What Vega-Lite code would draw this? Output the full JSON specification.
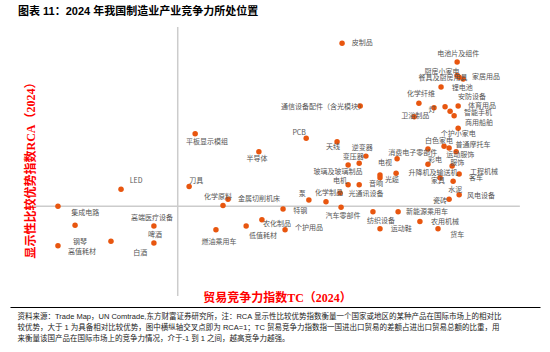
{
  "$schema": "https://vega.github.io/schema/vega-lite/v6.json",
  "width": 530,
  "height": 269,
  "autosize": "none",
  "padding": {"left": 10, "top": 27, "right": 10, "bottom": 56},
  "background": "white",
  "config": {"view": {"stroke": null}},
  "title": {
    "text": "图表 11：2024 年我国制造业产业竞争力所处位置",
    "anchor": "start",
    "frame": "group",
    "dx": 8,
    "offset": 3,
    "baseline": "middle",
    "font": "Liberation Sans, Noto Sans CJK SC",
    "fontSize": 11,
    "fontWeight": "bold",
    "color": "#000000"
  },
  "datasets": {
    "hline": [{"tc": -0.43, "tc2": 1.02, "rca": 1}],
    "vline": [{"tc": 0, "rca": 0, "rca2": 3}],
    "points": [
      {"tc": 0.49, "rca": 2.82}, {"tc": 0.544, "rca": 2.12}, {"tc": 0.052, "rca": 1.81},
      {"tc": 0.383, "rca": 1.76}, {"tc": 0.475, "rca": 1.72}, {"tc": 0.242, "rca": 1.61},
      {"tc": 0.561, "rca": 1.56}, {"tc": 0.508, "rca": 1.46}, {"tc": 0.541, "rca": 1.48},
      {"tc": 0.833, "rca": 2.61}, {"tc": 0.833, "rca": 2.46}, {"tc": 0.839, "rca": 2.44},
      {"tc": 0.851, "rca": 2.42}, {"tc": 0.785, "rca": 2.33}, {"tc": 0.719, "rca": 2.15},
      {"tc": 0.836, "rca": 2.12}, {"tc": 0.797, "rca": 2.11}, {"tc": 0.764, "rca": 2.10},
      {"tc": 0.812, "rca": 2.06}, {"tc": 0.824, "rca": 2.01}, {"tc": 0.705, "rca": 2.00},
      {"tc": 0.836, "rca": 1.87}, {"tc": 0.794, "rca": 1.67}, {"tc": 0.809, "rca": 1.65},
      {"tc": 0.830, "rca": 1.61}, {"tc": 0.746, "rca": 1.64}, {"tc": 0.654, "rca": 1.53},
      {"tc": 0.746, "rca": 1.47}, {"tc": 0.818, "rca": 1.45}, {"tc": 0.603, "rca": 1.35},
      {"tc": 0.603, "rca": 1.32}, {"tc": 0.651, "rca": 1.37}, {"tc": 0.839, "rca": 1.36},
      {"tc": 0.782, "rca": 1.32}, {"tc": 0.821, "rca": 1.28}, {"tc": 0.839, "rca": 1.13},
      {"tc": 0.809, "rca": 1.08}, {"tc": 0.657, "rca": 0.94}, {"tc": 0.582, "rca": 0.94},
      {"tc": 0.603, "rca": 0.75}, {"tc": 0.722, "rca": 0.83}, {"tc": 0.776, "rca": 0.75},
      {"tc": 0.508, "rca": 1.24}, {"tc": 0.541, "rca": 1.24}, {"tc": 0.484, "rca": 1.15},
      {"tc": 0.442, "rca": 1.05}, {"tc": 0.391, "rca": 1.07}, {"tc": 0.034, "rca": 1.22},
      {"tc": 0.150, "rca": 1.08}, {"tc": 0.135, "rca": 1.01}, {"tc": 0.314, "rca": 0.97},
      {"tc": 0.487, "rca": 0.99}, {"tc": 0.251, "rca": 0.85}, {"tc": 0.320, "rca": 0.74},
      {"tc": 0.204, "rca": 0.78}, {"tc": 0.114, "rca": 0.74}, {"tc": -0.169, "rca": 1.19},
      {"tc": -0.357, "rca": 1.00}, {"tc": -0.306, "rca": 0.79}, {"tc": -0.071, "rca": 0.78},
      {"tc": -0.071, "rca": 0.59}, {"tc": -0.199, "rca": 0.61}, {"tc": -0.357, "rca": 0.56}
    ],
    "labels": [
      {"label": "皮制品", "tc": 0.550, "rca": 2.82},
      {"label": "通信设备配件（含光模块）", "tc": 0.433, "rca": 2.11},
      {"label": "平板显示模组", "tc": 0.087, "rca": 1.72},
      {"label": "PCB", "tc": 0.362, "rca": 1.82},
      {"label": "天线", "tc": 0.463, "rca": 1.66},
      {"label": "逆变器", "tc": 0.550, "rca": 1.65},
      {"label": "半导体", "tc": 0.236, "rca": 1.53},
      {"label": "变压器", "tc": 0.523, "rca": 1.55},
      {"label": "玻璃及玻璃制品", "tc": 0.478, "rca": 1.38},
      {"label": "电机", "tc": 0.484, "rca": 1.28},
      {"label": "音响", "tc": 0.591, "rca": 1.25},
      {"label": "光通讯设备", "tc": 0.561, "rca": 1.14},
      {"label": "化学制品", "tc": 0.451, "rca": 1.15},
      {"label": "泵", "tc": 0.371, "rca": 1.14},
      {"label": "刀具", "tc": 0.055, "rca": 1.28},
      {"label": "化学原料", "tc": 0.120, "rca": 1.10},
      {"label": "金属切削机床", "tc": 0.242, "rca": 1.08},
      {"label": "特钢", "tc": 0.365, "rca": 0.95},
      {"label": "汽车零部件", "tc": 0.493, "rca": 0.89},
      {"label": "农化制品", "tc": 0.296, "rca": 0.80},
      {"label": "个护用品", "tc": 0.391, "rca": 0.76},
      {"label": "低值耗材", "tc": 0.254, "rca": 0.67},
      {"label": "燃油乘用车", "tc": 0.123, "rca": 0.60},
      {"label": "LED", "tc": -0.124, "rca": 1.28},
      {"label": "集成电路", "tc": -0.276, "rca": 0.93},
      {"label": "高端医疗设备", "tc": -0.077, "rca": 0.87},
      {"label": "啤酒", "tc": -0.068, "rca": 0.68},
      {"label": "钢琴", "tc": -0.291, "rca": 0.60},
      {"label": "高值耗材", "tc": -0.285, "rca": 0.49},
      {"label": "白酒", "tc": -0.112, "rca": 0.48},
      {"label": "电池片及组件", "tc": 0.836, "rca": 2.70},
      {"label": "厨房小家电", "tc": 0.788, "rca": 2.50},
      {"label": "餐具及厨房用具", "tc": 0.791, "rca": 2.43},
      {"label": "家居用品", "tc": 0.919, "rca": 2.44},
      {"label": "锂电池", "tc": 0.848, "rca": 2.32},
      {"label": "化学纤维", "tc": 0.725, "rca": 2.25},
      {"label": "安防设备", "tc": 0.877, "rca": 2.22},
      {"label": "体育用品", "tc": 0.907, "rca": 2.12},
      {"label": "灯", "tc": 0.758, "rca": 2.07},
      {"label": "智能手机", "tc": 0.895, "rca": 2.04},
      {"label": "卫浴制品", "tc": 0.708, "rca": 2.01},
      {"label": "商用船舶", "tc": 0.898, "rca": 1.93},
      {"label": "个护小家电", "tc": 0.836, "rca": 1.81},
      {"label": "白色家电", "tc": 0.779, "rca": 1.73},
      {"label": "普通摩托车", "tc": 0.880, "rca": 1.68},
      {"label": "消费电子零部件", "tc": 0.701, "rca": 1.59},
      {"label": "运动服饰", "tc": 0.842, "rca": 1.57},
      {"label": "彩电", "tc": 0.767, "rca": 1.52},
      {"label": "服饰", "tc": 0.833, "rca": 1.48},
      {"label": "电视", "tc": 0.618, "rca": 1.48},
      {"label": "光缆", "tc": 0.639, "rca": 1.29},
      {"label": "升降机及输送机", "tc": 0.761, "rca": 1.37},
      {"label": "工程机械", "tc": 0.913, "rca": 1.38},
      {"label": "客车", "tc": 0.889, "rca": 1.32},
      {"label": "家具", "tc": 0.776, "rca": 1.28},
      {"label": "水泥", "tc": 0.827, "rca": 1.18},
      {"label": "风电设备", "tc": 0.904, "rca": 1.12},
      {"label": "瓷砖", "tc": 0.782, "rca": 1.06},
      {"label": "新能源乘用车", "tc": 0.743, "rca": 0.94},
      {"label": "纺织设备", "tc": 0.606, "rca": 0.84},
      {"label": "农用机械", "tc": 0.797, "rca": 0.83},
      {"label": "运动鞋", "tc": 0.666, "rca": 0.75},
      {"label": "货车", "tc": 0.833, "rca": 0.68}
    ]
  },
  "layer": [
    {
      "data": {"name": "hline"},
      "mark": {"type": "rule", "color": "#cccccc", "strokeWidth": 1.5},
      "encoding": {
        "x": {
          "field": "tc", "type": "quantitative",
          "scale": {"domain": [-0.5, 1.08], "nice": false, "zero": false},
          "axis": {
            "orient": "bottom", "offset": 11,
            "domain": true, "domainColor": "#000000", "domainWidth": 1.2,
            "ticks": false, "labels": false, "grid": false,
            "title": "贸易竞争力指数TC（2024）",
            "titleColor": "#ff0000",
            "titleFont": "Liberation Serif, Noto Sans CJK SC",
            "titleFontSize": 12, "titleFontWeight": "bold",
            "titleX": 267, "titleY": -10,
            "titleAlign": "center", "titleBaseline": "middle"
          }
        },
        "x2": {"field": "tc2"},
        "y": {
          "field": "rca", "type": "quantitative",
          "scale": {"domain": [0, 3], "nice": false, "zero": false},
          "axis": {
            "domain": false, "ticks": false, "labels": false, "grid": false,
            "title": "显示性比较优势指数RCA（2024）",
            "titleColor": "#ff0000",
            "titleFont": "Liberation Serif, Noto Sans CJK SC",
            "titleFontSize": 12, "titleFontWeight": "bold",
            "titleAngle": 270,
            "titleX": 20, "titleY": 140,
            "titleAlign": "center", "titleBaseline": "middle"
          }
        }
      }
    },
    {
      "data": {"name": "vline"},
      "mark": {"type": "rule", "color": "#cccccc", "strokeWidth": 1.5},
      "encoding": {
        "x": {"field": "tc", "type": "quantitative", "scale": {"domain": [-0.5, 1.08], "nice": false, "zero": false}, "axis": null},
        "y": {"field": "rca", "type": "quantitative", "scale": {"domain": [0, 3], "nice": false, "zero": false}},
        "y2": {"field": "rca2"}
      }
    },
    {
      "data": {"name": "points"},
      "mark": {"type": "circle", "size": 30, "color": "#e8560f", "opacity": 1},
      "encoding": {
        "x": {"field": "tc", "type": "quantitative", "scale": {"domain": [-0.5, 1.08], "nice": false, "zero": false}, "axis": null},
        "y": {"field": "rca", "type": "quantitative", "scale": {"domain": [0, 3], "nice": false, "zero": false}}
      }
    },
    {
      "data": {"name": "labels"},
      "mark": {"type": "text", "font": "Noto Sans CJK SC", "fontSize": 7, "color": "#555555", "align": "center", "baseline": "middle"},
      "encoding": {
        "x": {
          "field": "tc", "type": "quantitative",
          "scale": {"domain": [-0.5, 1.08], "nice": false, "zero": false},
          "axis": {
            "orient": "bottom",
            "domain": false, "ticks": false, "labels": false, "grid": false,
            "title": [
              "资料来源：Trade Map，UN Comtrade,东方财富证券研究所，注：RCA 显示性比较优势指数衡量一个国家或地区的某种产品在国际市场上的相对比",
              "较优势，大于 1 为具备相对比较优势，图中横纵轴交叉点即为 RCA=1；TC 贸易竞争力指数指一国进出口贸易的差额占进出口贸易总额的比重，用",
              "来衡量该国产品在国际市场上的竞争力情况，介于-1 到 1 之间，越高竞争力越强。"
            ],
            "titleColor": "#222222",
            "titleFont": "Liberation Sans, Noto Sans CJK SC",
            "titleFontSize": 7.5, "titleFontWeight": "normal",
            "titleX": 7, "titleY": 16,
            "titleAlign": "left", "titleBaseline": "top",
            "titleLineHeight": 11
          }
        },
        "y": {"field": "rca", "type": "quantitative", "scale": {"domain": [0, 3], "nice": false, "zero": false}},
        "text": {"field": "label", "type": "nominal"}
      }
    }
  ],
  "resolve": {"axis": {"x": "independent"}}
}
